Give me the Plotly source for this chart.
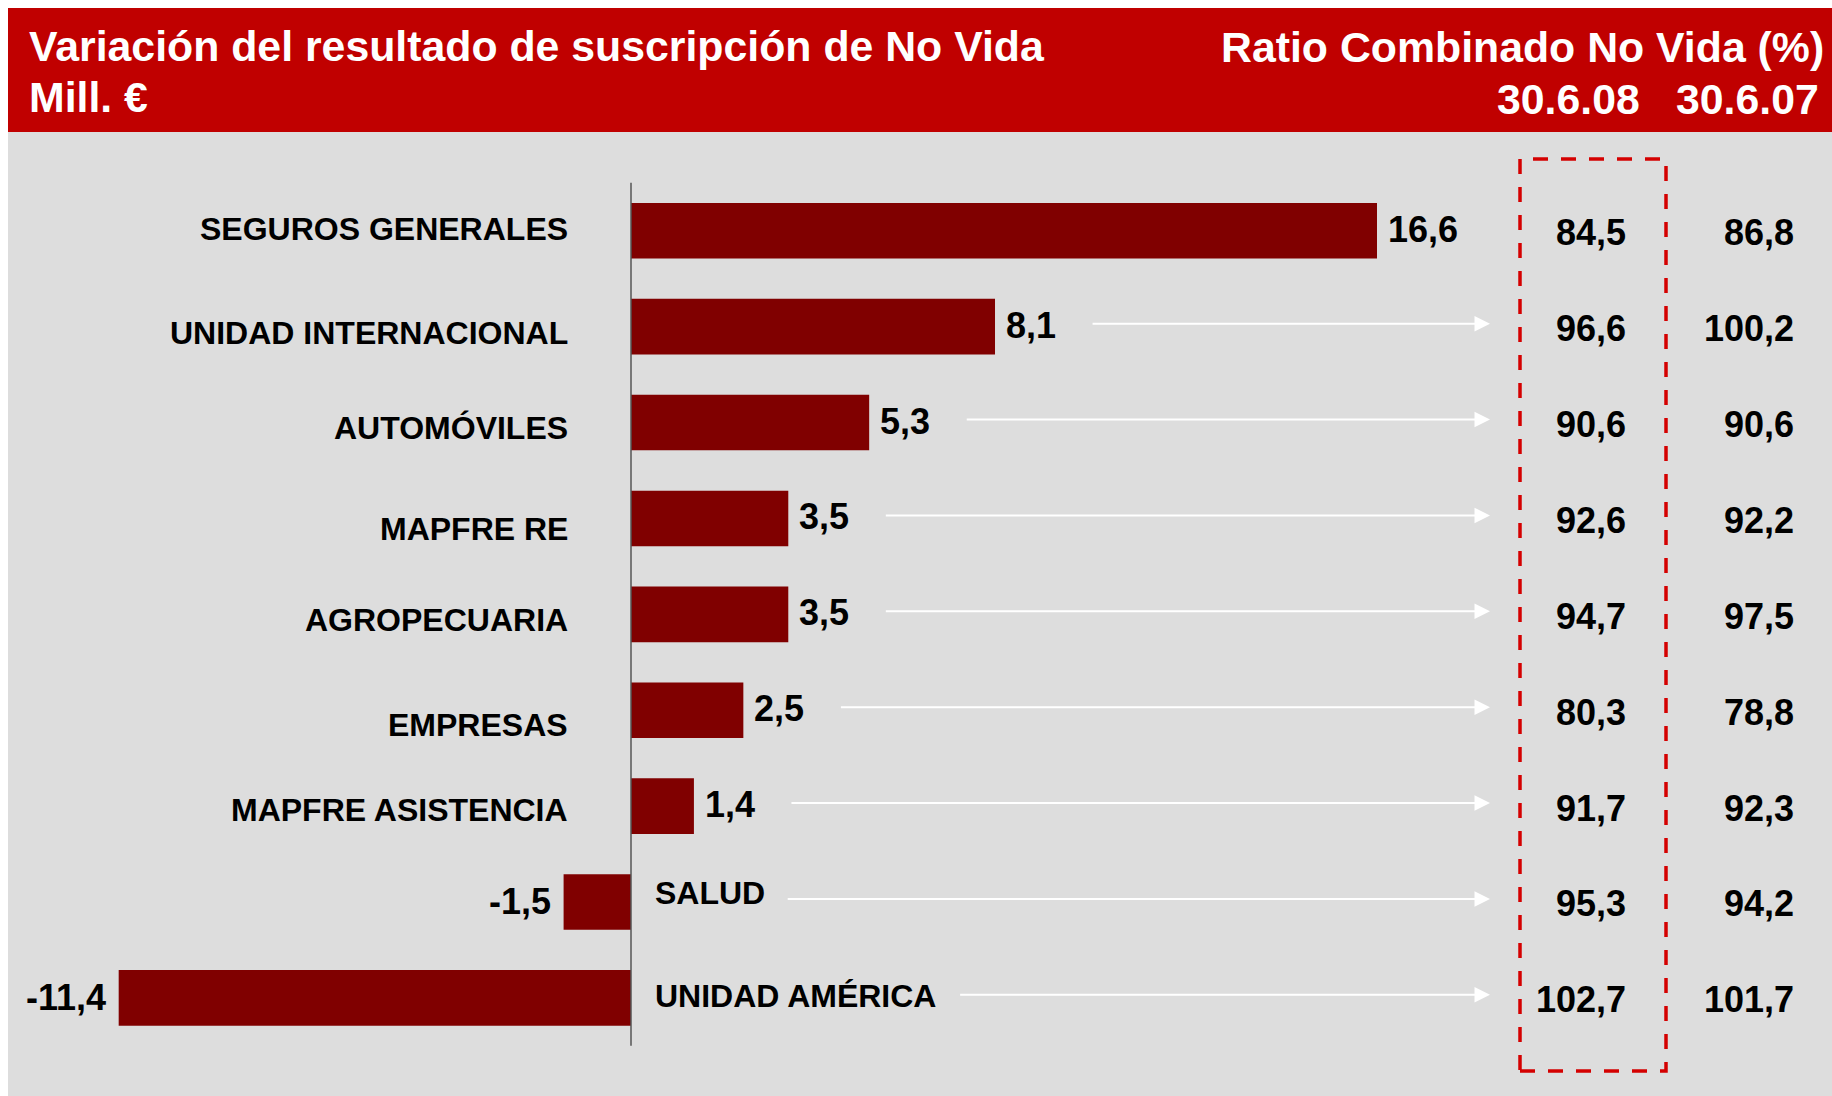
import plotly.graph_objects as go

# ---------------- data ----------------
categories = ["SEGUROS GENERALES", "UNIDAD INTERNACIONAL", "AUTOMÓVILES", "MAPFRE RE",
              "AGROPECUARIA", "EMPRESAS", "MAPFRE ASISTENCIA", "SALUD", "UNIDAD AMÉRICA"]
variation = [16.6, 8.1, 5.3, 3.5, 3.5, 2.5, 1.4, -1.5, -11.4]
ratio_2008 = [84.5, 96.6, 90.6, 92.6, 94.7, 80.3, 91.7, 95.3, 102.7]
ratio_2007 = [86.8, 100.2, 90.6, 92.2, 97.5, 78.8, 92.3, 94.2, 101.7]
period_labels = ["30.6.08", "30.6.07"]
title_left = ["Variación del resultado de suscripción de No Vida", "Mill. €"]
title_right = "Ratio Combinado No Vida (%)"

# ---------------- layout / style constants ----------------
W, H = 1832, 1096
PX = 44.94          # pixels per unit on the value axis
ZERO = 631          # pixel position of 0
C0, DY = 230.8, 95.88   # first category centre, category spacing (px)
FONT = "Arial, Liberation Sans, sans-serif"
BAR = "#800000"
RED = "#C00000"
GRAY = "#DDDDDD"
label_dy = [-1.5, 6, 5, 10.5, 6, 14.5, 4, -9, -2]   # vertical nudge of category labels (px, down)

def fmt(v):
    return f"{v:.1f}".replace(".", ",")

def px(v):
    return (v - ZERO) / PX

def py(p):
    return 1 - p / H

# Arial Bold advance widths (em)
AW = {**{d: 0.556 for d in "0123456789"}, ",": 0.278, "-": 0.333, " ": 0.278,
      "S": 0.667, "A": 0.722, "L": 0.611, "U": 0.722, "D": 0.722, "N": 0.722,
      "I": 0.278, "M": 0.833, "É": 0.667, "R": 0.722, "C": 0.722, "E": 0.667}

def tw(s, size):
    return sum(AW.get(c, 0.6) for c in s) * size

VAL_SIZE, CAT_SIZE, TITLE_SIZE = 36, 32, 42.8

fig = go.Figure()
fig.add_trace(go.Bar(
    y=categories, x=variation, orientation="h", width=0.58,
    marker=dict(color=BAR, line=dict(width=0)), hoverinfo="skip"))

shapes = [
    dict(type="rect", xref="paper", yref="paper", x0=8 / W, x1=1, y0=0, y1=py(132),
         fillcolor=GRAY, line=dict(width=0), layer="below"),
    dict(type="rect", xref="paper", yref="paper", x0=8 / W, x1=1, y0=py(132), y1=py(8),
         fillcolor=RED, line=dict(width=0), layer="below"),
    dict(type="line", xref="x", yref="y", x0=0, x1=0, y0=-0.5, y1=len(categories) - 0.5,
         line=dict(color="#555555", width=1.5)),
    dict(type="rect", xref="paper", yref="paper", x0=1520 / W, x1=1666 / W,
         y0=py(1071), y1=py(159), line=dict(color="#D40000", width=3.5, dash="15px,13px"),
         fillcolor="rgba(0,0,0,0)"),
]

ann = []
white = dict(family=FONT, size=TITLE_SIZE, color="white")
ann.append(dict(x=27 / W, y=py(46), xref="paper", yref="paper", xanchor="left", yanchor="middle",
                text=f"<b>{title_left[0]}</b>", showarrow=False, font=white))
ann.append(dict(x=27 / W, y=py(97), xref="paper", yref="paper", xanchor="left", yanchor="middle",
                text=f"<b>{title_left[1]}</b>", showarrow=False, font=white))
ann.append(dict(x=1826 / W, y=py(47), xref="paper", yref="paper", xanchor="right", yanchor="middle",
                text=f"<b>{title_right}</b>", showarrow=False, font=white))
for lab, xr in zip(period_labels, [1642, 1821]):
    ann.append(dict(x=xr / W, y=py(99), xref="paper", yref="paper", xanchor="right",
                    yanchor="middle", text=f"<b>{lab}</b>", showarrow=False, font=white))

TIP = 1490
GAP = 36
for i, (cat, v, r8, r7) in enumerate(zip(categories, variation, ratio_2008, ratio_2007)):
    vt = fmt(v)
    if v >= 0:
        ann.append(dict(x=570 / W, y=cat, xref="paper", yref="y", xanchor="right",
                        yanchor="middle", yshift=-label_dy[i], text=f"<b>{cat}</b>",
                        showarrow=False, font=dict(family=FONT, size=CAT_SIZE, color="black")))
        ann.append(dict(x=v, y=cat, xref="x", yref="y", xanchor="left", yanchor="middle",
                        xshift=9, yshift=1.5, text=f"<b>{vt}</b>", showarrow=False,
                        font=dict(family=FONT, size=VAL_SIZE, color="black")))
        tail_px = ZERO + v * PX + 10 + tw(vt, VAL_SIZE) + GAP
    else:
        ann.append(dict(x=0, y=cat, xref="x", yref="y", xanchor="left", yanchor="middle",
                        xshift=22, yshift=-label_dy[i], text=f"<b>{cat}</b>", showarrow=False,
                        font=dict(family=FONT, size=CAT_SIZE, color="black")))
        ann.append(dict(x=v, y=cat, xref="x", yref="y", xanchor="right", yanchor="middle",
                        xshift=-11, text=f"<b>{vt}</b>", showarrow=False,
                        font=dict(family=FONT, size=VAL_SIZE, color="black")))
        tail_px = ZERO + 24 + tw(cat, CAT_SIZE) + GAP - 15
    if i > 0:
        ann.append(dict(x=px(TIP), y=cat, xref="x", yref="y", ax=px(tail_px), axref="x",
                        ay=0, ayref="pixel", yshift=3, text="", showarrow=True,
                        arrowhead=2, arrowsize=1.55, arrowwidth=2, arrowcolor="white"))
    for val, xr in zip([r8, r7], [1628, 1796]):
        ann.append(dict(x=xr / W, y=cat, xref="paper", yref="y", xanchor="right",
                        yanchor="middle", yshift=-2, text=f"<b>{fmt(val)}</b>", showarrow=False,
                        font=dict(family=FONT, size=VAL_SIZE, color="black")))

fig.update_layout(
    width=W, height=H, autosize=False,
    margin=dict(l=0, r=0, t=0, b=0, pad=0),
    paper_bgcolor="white", plot_bgcolor="rgba(0,0,0,0)",
    showlegend=False,
    xaxis=dict(range=[px(0), px(W)], visible=False, fixedrange=True),
    yaxis=dict(type="category", categoryorder="array", categoryarray=categories,
               range=[(H - C0) / DY, -C0 / DY], visible=False, fixedrange=True),
    shapes=shapes, annotations=ann,
)

fig.write_html(
    "out.html",
    config={"displayModeBar": False},
    post_script="document.body.style.margin='0px';document.documentElement.style.overflow='hidden';",
)
